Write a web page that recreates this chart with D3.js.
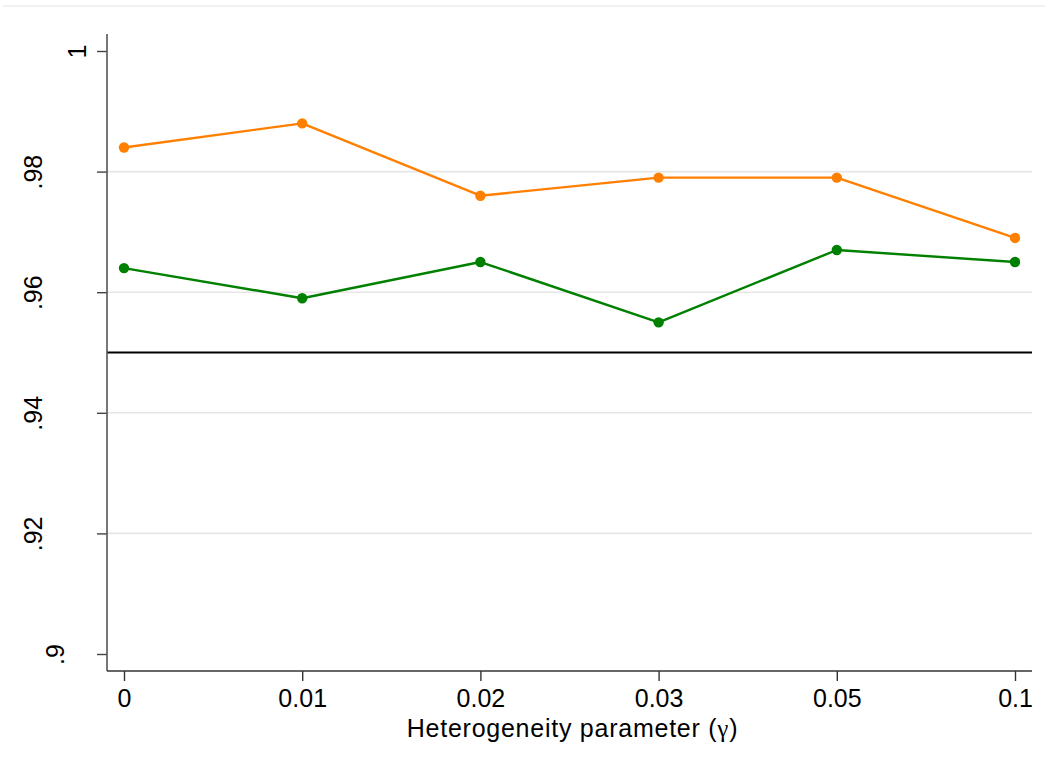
<!DOCTYPE html>
<html>
<head>
<meta charset="utf-8">
<script src="https://cdn.jsdelivr.net/npm/d3@7"></script>
<style>
  html, body { margin: 0; padding: 0; background: #fff; }
  svg { display: block; font-family: "Liberation Sans", Arial, Helvetica, sans-serif; }
</style>
</head>
<body>
<svg id="chart" width="1048" height="772"></svg>
<script>
// Heterogeneity parameter values (categorical, evenly spaced)
const categories = ["0", "0.01", "0.02", "0.03", "0.05", "0.1"];
// Coverage rates for the two estimators
const seriesOrange = [0.984, 0.988, 0.976, 0.979, 0.979, 0.969];
const seriesGreen  = [0.964, 0.959, 0.965, 0.955, 0.967, 0.965];
// Nominal level reference line
const referenceLevel = 0.95;
// Y axis ticks and their labels
const yTicks = [0.9, 0.92, 0.94, 0.96, 0.98, 1];
const yTickLabels = [".9", ".92", ".94", ".96", ".98", "1"];
const gridTicks = [0.92, 0.94, 0.96, 0.98];
const xTitleText = "Heterogeneity parameter (";
const xTitleSymbol = "\u03B3";
const xTitleEnd = ")";

const svg = d3.select("#chart");

// Plot frame
const frame = { left: 107, right: 1032, top: 34, bottom: 671 };

const x = d3.scalePoint().domain(categories).range([124, 1015]);
const y = d3.scaleLinear().domain([0.9, 1]).range([654, 51]);

// Faint outer border at the top of the graph region
svg.append("line")
  .attr("x1", 3).attr("x2", 1045).attr("y1", 6).attr("y2", 6)
  .attr("stroke", "#ececec").attr("stroke-width", 1.5);

// Horizontal grid lines
svg.append("g").selectAll("line").data(gridTicks).join("line")
  .attr("x1", frame.left).attr("x2", frame.right)
  .attr("y1", d => y(d)).attr("y2", d => y(d))
  .attr("stroke", "#e6e6e6").attr("stroke-width", 1.6);

// Reference line at the nominal level
svg.append("line")
  .attr("x1", frame.left).attr("x2", frame.right)
  .attr("y1", y(referenceLevel)).attr("y2", y(referenceLevel))
  .attr("stroke", "#000").attr("stroke-width", 2.2);

// Y axis: rotated labels, offset from the axis by their character count
const yAxis = d3.axisLeft(y)
  .tickValues(yTicks)
  .tickFormat((d, i) => yTickLabels[i])
  .tickSize(10).tickSizeOuter(0);
const gy = svg.append("g").attr("transform", `translate(${frame.left},0)`).call(yAxis);
gy.select(".domain").remove();
gy.selectAll(".tick line").attr("stroke", "#444").attr("stroke-width", 1.4);
gy.selectAll(".tick text")
  .attr("x", 0).attr("dy", 0)
  .attr("transform", (d, i) => `translate(${-(22 * yTickLabels[i].length - 1)},0) rotate(-90)`)
  .attr("text-anchor", "middle")
  .attr("fill", "#000")
  .style("font-size", "25px");
svg.append("line")
  .attr("x1", frame.left).attr("x2", frame.left)
  .attr("y1", frame.top).attr("y2", frame.bottom)
  .attr("stroke", "#555").attr("stroke-width", 1.6);

// X axis
const xAxis = d3.axisBottom(x).tickSize(10).tickSizeOuter(0).tickPadding(8);
const gx = svg.append("g").attr("transform", `translate(0,${frame.bottom})`).call(xAxis);
gx.select(".domain").remove();
gx.selectAll(".tick line").attr("stroke", "#333").attr("stroke-width", 1.4);
gx.selectAll(".tick text").attr("fill", "#000").style("font-size", "25px");
svg.append("line")
  .attr("x1", frame.left).attr("x2", frame.right)
  .attr("y1", frame.bottom).attr("y2", frame.bottom)
  .attr("stroke", "#333").attr("stroke-width", 1.6);

// X axis title
const title = svg.append("text")
  .attr("x", (x(categories[0]) + x(categories[categories.length - 1])) / 2 + 3)
  .attr("y", 737)
  .attr("text-anchor", "middle")
  .attr("fill", "#000")
  .style("font-size", "25px")
  .style("letter-spacing", "0.75px");
title.append("tspan").text(xTitleText);
title.append("tspan").style("font-family", "'Liberation Serif', 'Times New Roman', serif").text(xTitleSymbol);
title.append("tspan").text(xTitleEnd);

// Series lines with markers
function drawSeries(values, color) {
  const pts = values.map((v, i) => [x(categories[i]), y(v)]);
  svg.append("path")
    .attr("d", d3.line()(pts))
    .attr("fill", "none")
    .attr("stroke", color)
    .attr("stroke-width", 2.4)
    .attr("stroke-linejoin", "round");
  svg.append("g").selectAll("circle").data(values).join("circle")
    .attr("cx", (d, i) => x(categories[i]))
    .attr("cy", d => y(d))
    .attr("r", 5.2)
    .attr("fill", color);
}
drawSeries(seriesOrange, "#ff7f00");
drawSeries(seriesGreen, "#008000");
</script>
</body>
</html>
